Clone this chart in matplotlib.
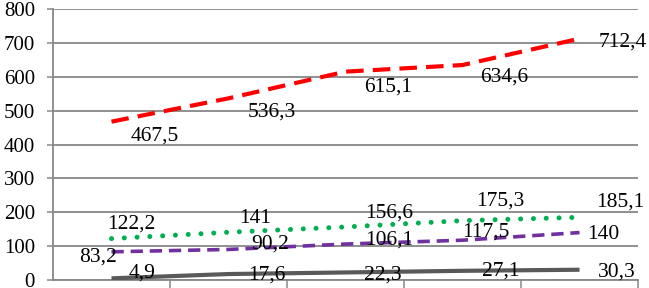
import matplotlib
matplotlib.use("Agg")
import matplotlib.pyplot as plt

# values (5 points per series)
red_vals = [467.5, 536.3, 615.1, 634.6, 712.4]
green_vals = [122.2, 141, 156.6, 175.3, 185.1]
purple_vals = [83.2, 90.2, 106.1, 117.5, 140]
gray_vals = [4.9, 17.6, 22.3, 27.1, 30.3]
y_ticks = [0, 100, 200, 300, 400, 500, 600, 700, 800]

# label offsets in pixels (dx, dy) for each point
red_off = [(43, -14), (43, -14), (43, -15), (42, -12), (43, -3)]
green_off = [(20, 15), (27, 14), (44, 14), (38, 20), (41, 15)]
purple_off = [(-13, -5), (42, 5), (44, 4), (23, 8), (24, -2)]
gray_off = [(31, 5), (38, -1), (37, -3), (38, 0), (37, -2)]

plt.rcParams["font.family"] = ["Liberation Serif", "DejaVu Serif"]

fig = plt.figure(figsize=(6.49, 2.88), dpi=100)
ax = fig.add_axes([53 / 649, 8 / 288, 585 / 649, 271 / 288])

x = list(range(len(red_vals)))
grid_col = "#878787"

series = [
    (gray_vals, gray_off, dict(color="#595959", lw=3.0, ls="-", solid_capstyle="butt")),
    (purple_vals, purple_off, dict(color="#7030A0", lw=2.6, ls=(0, (3.4, 1.9)))),
    (green_vals, green_off, dict(color="#00B050", lw=3.6, ls=(0, (0.01, 2.55)), dash_capstyle="round")),
    (red_vals, red_off, dict(color="#FF0000", lw=3.0, ls=(0, (4.2, 2.2)))),
]

for vals, offs, style in series:
    ax.plot(x, vals, zorder=3, **style)
    for i, v in enumerate(vals):
        txt = f"{v:g}".replace(".", ",")
        ax.annotate(txt, (i, v), xytext=offs[i], textcoords="offset pixels",
                    ha="center", va="center", fontsize=15.5, color="black", zorder=4)

ax.set_xlim(-0.5, 4.5)
ax.set_ylim(0, 800)
ax.set_yticks(y_ticks)
ax.set_xticks([0.5, 1.5, 2.5, 3.5, 4.5])
ax.set_xticklabels([])
ax.yaxis.grid(True, color=grid_col, lw=1.3)
ax.set_axisbelow(True)

for s in ["top", "right"]:
    ax.spines[s].set_visible(False)
ax.spines["left"].set_color(grid_col)
ax.spines["left"].set_linewidth(1.3)
ax.spines["bottom"].set_color(grid_col)
ax.spines["bottom"].set_linewidth(1.3)
ax.tick_params(axis="y", length=4, width=1.1, color=grid_col, pad=9, labelsize=15)
ax.tick_params(axis="x", length=6, width=1.1, color=grid_col)

fig.savefig("out.png", dpi=100)
